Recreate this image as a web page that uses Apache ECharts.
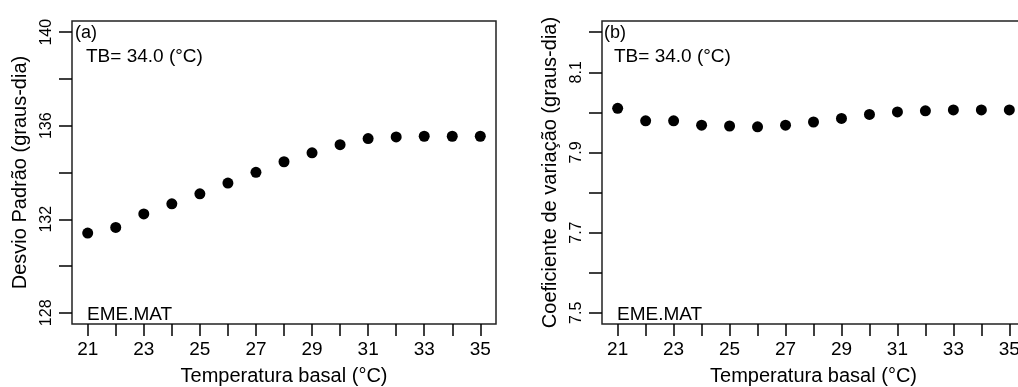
<!DOCTYPE html>
<html>
<head>
<meta charset="utf-8">
<script src="https://cdn.jsdelivr.net/npm/echarts@6/dist/echarts.min.js"></script>
<style>
  html, body { margin: 0; padding: 0; background: #fff; }
  #chart { width: 1018px; height: 387px; }
</style>
</head>
<body>
<div id="chart"></div>
<script>
  // temperatura basal (x) e valores
  var tempBasal = [21, 22, 23, 24, 25, 26, 27, 28, 29, 30, 31, 32, 33, 34, 35]
  var desvioPadrao = [131.41, 131.65, 132.23, 132.66, 133.09, 133.55, 134.01, 134.46, 134.84, 135.19, 135.45, 135.52, 135.55, 135.55, 135.55]
  var coefVariacao = [8.010, 7.979, 7.979, 7.968, 7.966, 7.964, 7.968, 7.976, 7.985, 7.995, 8.001, 8.004, 8.006, 8.006, 8.006]

  var xTicks = [21, 22, 23, 24, 25, 26, 27, 28, 29, 30, 31, 32, 33, 34, 35]
  var xLabels = [21, 23, 25, 27, 29, 31, 33, 35]
  var dpTicks = [128, 130, 132, 134, 136, 138, 140]
  var dpLabels = [128, 132, 136, 140]
  var cvTicks = [7.5, 7.6, 7.7, 7.8, 7.9, 8.0, 8.1, 8.2]
  var cvLabels = [7.5, 7.7, 7.9, 8.1]

  var font = 'Liberation Sans, Arial, sans-serif'

  function pairs (xs, ys) {
    return xs.map(function (x, i) {
      return [x, ys[i]]
    })
  }

  function xAxisCfg (gridIndex) {
    return {
      gridIndex: gridIndex,
      type: 'value',
      min: 20.44,
      max: 35.56,
      name: 'Temperatura basal (°C)',
      nameLocation: 'middle',
      nameGap: 42,
      nameTextStyle: { color: '#000', fontSize: 20, fontFamily: font },
      axisLine: { show: false },
      axisTick: {
        show: true,
        length: 12,
        customValues: xTicks,
        lineStyle: { color: '#000', width: 1.5 }
      },
      axisLabel: {
        customValues: xLabels,
        margin: 16,
        color: '#000',
        fontSize: 19,
        fontFamily: font
      },
      splitLine: { show: false }
    }
  }

  function yAxisCfg (gridIndex, name, min, max, ticks, labels, fmt) {
    return {
      gridIndex: gridIndex,
      type: 'value',
      min: min,
      max: max,
      name: name,
      nameLocation: 'middle',
      nameRotate: 90,
      nameGap: 42,
      nameTextStyle: { color: '#000', fontSize: 20, fontFamily: font },
      axisLine: { show: false },
      axisTick: {
        show: true,
        length: 13,
        customValues: ticks,
        lineStyle: { color: '#000', width: 1.5 }
      },
      axisLabel: {
        customValues: labels,
        rotate: 90,
        margin: 17,
        color: '#000',
        fontSize: 16,
        fontFamily: font,
        formatter: fmt
      },
      splitLine: { show: false }
    }
  }

  function txt (left, top, text, size) {
    return {
      type: 'text',
      left: left,
      top: top,
      style: { text: text, fill: '#000', fontSize: size, fontFamily: font }
    }
  }

  var myChart = echarts.init(document.getElementById('chart'))

  var option = {
    backgroundColor: '#fff',
    animation: false,
    grid: [{
      show: true,
      left: 72,
      width: 424,
      top: 21,
      bottom: 63,
      outerBoundsMode: 'none',
      borderColor: '#222',
      borderWidth: 1.5
    }, {
      show: true,
      left: 602,
      width: 423,
      top: 21,
      bottom: 63,
      outerBoundsMode: 'none',
      borderColor: '#222',
      borderWidth: 1.5
    }],
    xAxis: [xAxisCfg(0), xAxisCfg(1)],
    yAxis: [
      yAxisCfg(0, 'Desvio Padrão (graus-dia)', 127.52, 140.48, dpTicks, dpLabels, function (v) {
        return String(v)
      }),
      yAxisCfg(1, 'Coeficiente de variação (graus-dia)', 7.472, 8.228, cvTicks, cvLabels, function (v) {
        return v.toFixed(1)
      })
    ],
    graphic: [
      txt(75, 24, '(a)', 18),
      txt(86, 47, 'TB= 34.0 (°C)', 19),
      txt(87, 305, 'EME.MAT', 19),
      txt(604, 24, '(b)', 18),
      txt(614, 47, 'TB= 34.0 (°C)', 19),
      txt(617, 305, 'EME.MAT', 19)
    ],
    series: [{
      name: 'Desvio Padrão',
      type: 'scatter',
      xAxisIndex: 0,
      yAxisIndex: 0,
      symbol: 'circle',
      symbolSize: 11,
      itemStyle: { color: '#000', opacity: 1 },
      data: pairs(tempBasal, desvioPadrao)
    }, {
      name: 'Coeficiente de variação',
      type: 'scatter',
      xAxisIndex: 1,
      yAxisIndex: 1,
      symbol: 'circle',
      symbolSize: 11,
      itemStyle: { color: '#000', opacity: 1 },
      data: pairs(tempBasal, coefVariacao)
    }]
  }

  myChart.setOption(option)
</script>
</body>
</html>
